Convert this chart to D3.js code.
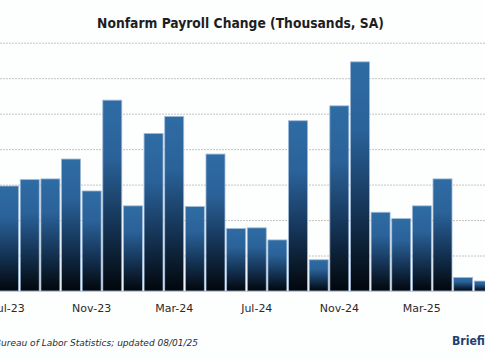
<!DOCTYPE html>
<html>
<head>
<meta charset="utf-8">
<script src="https://cdn.jsdelivr.net/npm/d3@7"></script>
<style>
html,body{margin:0;padding:0;background:#fdfefe;}
svg{display:block;}
</style>
</head>
<body>
<svg id="chart" width="485" height="360"></svg>
<script>
const months = ["Jul-23","Aug-23","Sep-23","Oct-23","Nov-23","Dec-23","Jan-24","Feb-24","Mar-24","Apr-24","May-24","Jun-24","Jul-24","Aug-24","Sep-24","Oct-24","Nov-24","Dec-24","Jan-25","Feb-25","Mar-25","Apr-25","May-25","Jun-25"];
const payrolls = [148,157,158,186,141,269,120,222,246,119,193,88,89,72,240,44,261,323,111,102,120,158,19,14];
const tickLabels = ["Jul-23","Nov-23","Mar-24","Jul-24","Nov-24","Mar-25"];
const yTicks = [0,50,100,150,200,250,300,350];
const titleText = "Nonfarm Payroll Change (Thousands, SA)";
const sourceText = "Source: Bureau of Labor Statistics; updated 08/01/25";
const brandText = "Briefing.com";

const svg = d3.select("#chart");
const W = 485, H = 360;
const step = 20.57, x0 = -0.4;
const baseY = 291, topY = 42.7;

const x = d3.scaleBand().domain(months)
  .range([x0, x0 + step * months.length])
  .paddingInner(0.08).paddingOuter(0);
const y = d3.scaleLinear().domain([0, 350]).range([baseY, topY]);

function fitSize(family, weight, style, stretch, str, targetW, base) {
  const t = svg.append("text").attr("font-family", family).attr("font-weight", weight)
    .attr("font-style", style).attr("font-stretch", stretch).attr("font-size", base + "px").text(str);
  const w = t.node().getComputedTextLength();
  t.remove();
  return base * targetW / w;
}

const defs = svg.append("defs");
const grad = defs.append("linearGradient").attr("id","barGrad")
  .attr("x1",0).attr("y1",0).attr("x2",0).attr("y2",1);
grad.append("stop").attr("offset","0%").attr("stop-color","#2f6ca4");
grad.append("stop").attr("offset","30%").attr("stop-color","#2a6299");
grad.append("stop").attr("offset","65%").attr("stop-color","#153456");
grad.append("stop").attr("offset","100%").attr("stop-color","#02060b");

// gridlines
svg.append("g").selectAll("line").data(yTicks.filter(d=>d>0)).join("line")
  .attr("x1",0).attr("x2",W)
  .attr("y1",d=>y(d)+0.5).attr("y2",d=>y(d)+0.5)
  .attr("stroke","#c8c4c4").attr("stroke-width",1)
  .attr("stroke-dasharray","2,1");

// bars
svg.append("g").selectAll("rect").data(months).join("rect")
  .attr("x",(d)=>x(d))
  .attr("y",(d,i)=>y(payrolls[i]))
  .attr("width",x.bandwidth())
  .attr("height",(d,i)=>baseY - y(payrolls[i]))
  .attr("fill","url(#barGrad)")
  .attr("stroke","#9fb9d6").attr("stroke-width",0.8);

// baseline
svg.append("line").attr("x1",0).attr("x2",W).attr("y1",baseY+0.5).attr("y2",baseY+0.5)
  .attr("stroke","#b9cde2").attr("stroke-width",1);

// x axis labels
const xAxis = d3.axisBottom(x).tickValues(tickLabels).tickSize(0).tickPadding(0);
const gx = svg.append("g").attr("transform",`translate(0,${baseY})`).call(xAxis);
gx.select(".domain").remove();
gx.selectAll("text").attr("y",20.7).attr("dy","0")
  .attr("font-family","'DejaVu Sans', Verdana, sans-serif")
  .attr("font-size","11px").attr("fill","#2b2b2b");

// title
const condFam = "'DejaVu Sans Condensed', 'DejaVu Sans', sans-serif";
const tSize = fitSize(condFam, "bold", "normal", "condensed", titleText, 287, 15);
svg.append("text").attr("x",240.5).attr("y",27.5)
  .attr("text-anchor","middle")
  .attr("font-family",condFam).attr("font-stretch","condensed")
  .attr("font-weight","bold").attr("font-size",tSize.toFixed(2) + "px").attr("fill","#1e1e1e")
  .text(titleText);

// source
const sFam = "'DejaVu Sans', Verdana, sans-serif";
const sSize = fitSize(sFam, "normal", "italic", "normal", "of Labor Statistics; updated 08/01/25", 168, 10);
svg.append("text").attr("x",198).attr("y",345.5)
  .attr("text-anchor","end")
  .attr("font-family",sFam)
  .attr("font-style","italic").attr("font-size",sSize.toFixed(2) + "px").attr("fill","#2b2b2b")
  .text(sourceText);

// brand
const bSize = fitSize(condFam, "bold", "normal", "condensed", "Briefi", 33, 14);
svg.append("text").attr("x",452).attr("y",345)
  .attr("font-family",condFam).attr("font-stretch","condensed")
  .attr("font-weight","bold").attr("font-size",bSize.toFixed(2) + "px").attr("fill","#1f3e70")
  .text(brandText);
</script>
</body>
</html>
